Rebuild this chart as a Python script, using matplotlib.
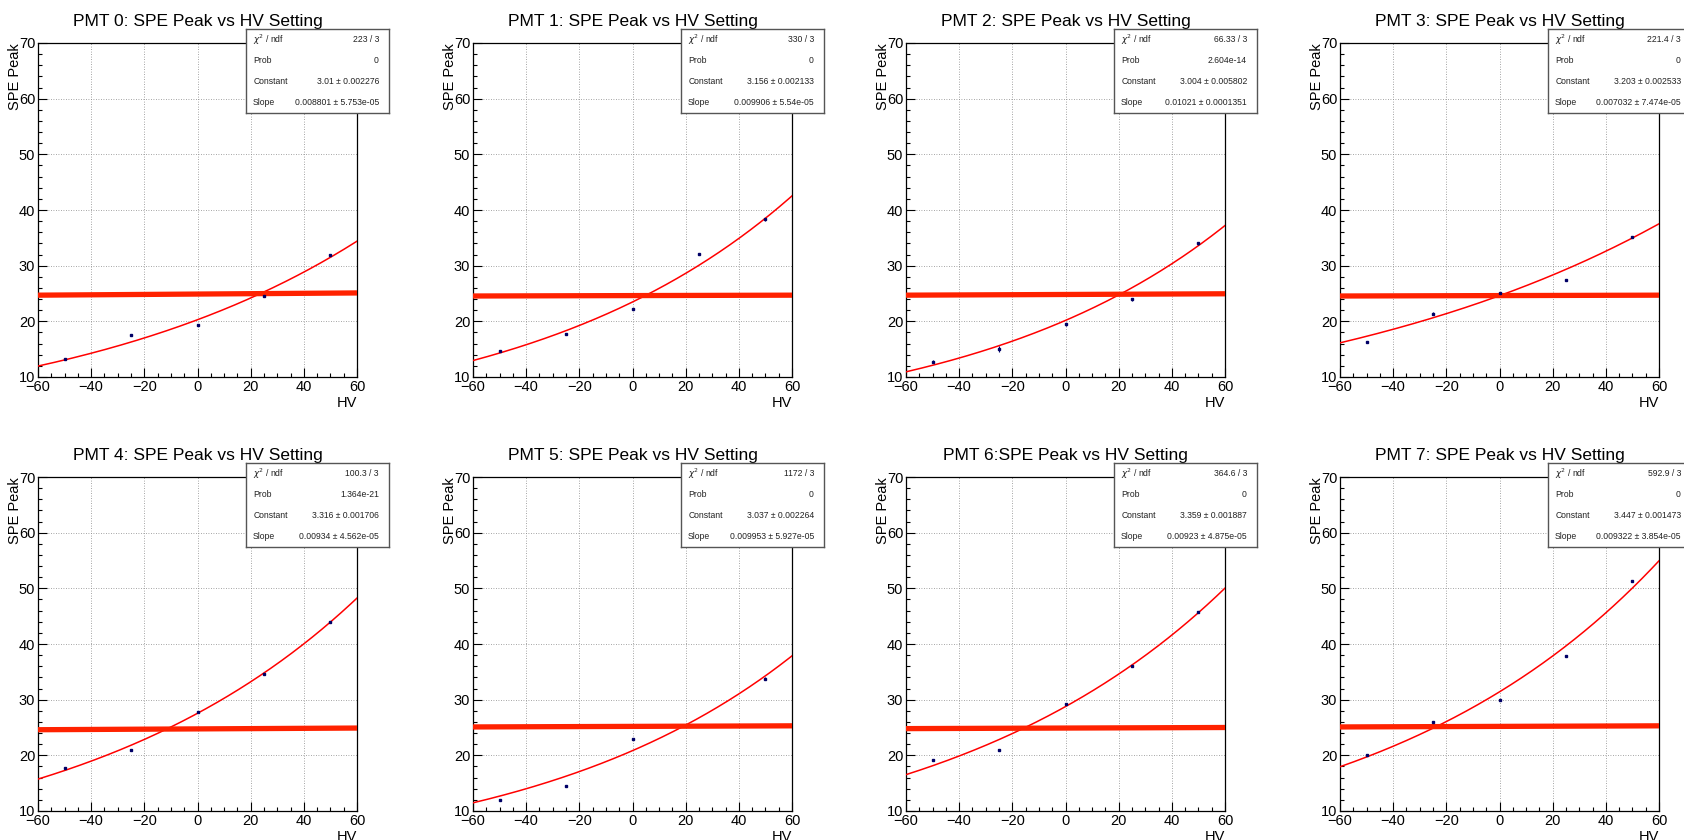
import numpy as np
import matplotlib
matplotlib.use("Agg")
import matplotlib.pyplot as plt
from matplotlib.ticker import MultipleLocator

plt.rcParams['font.family'] = ['Liberation Sans', 'DejaVu Sans']

# ---- data ----
titles = ["PMT 0: SPE Peak vs HV Setting", "PMT 1: SPE Peak vs HV Setting",
          "PMT 2: SPE Peak vs HV Setting", "PMT 3: SPE Peak vs HV Setting",
          "PMT 4: SPE Peak vs HV Setting", "PMT 5: SPE Peak vs HV Setting",
          "PMT 6:SPE Peak vs HV Setting", "PMT 7: SPE Peak vs HV Setting"]

hv_x = [[-50, -25, 0, 25, 50]] * 5 + [[-50, -25, 0, 50]] + [[-50, -25, 0, 25, 50]] * 2
spe_y = [
    [13.2, 17.5, 19.4, 24.6, 31.9],
    [14.6, 17.7, 22.3, 32.1, 38.3],
    [12.75, 15.0, 19.5, 23.95, 34.0],
    [16.3, 21.4, 25.1, 27.4, 35.2],
    [17.7, 21.0, 27.7, 34.7, 44.0],
    [12.0, 14.5, 23.0, 33.8],
    [19.15, 21.0, 29.25, 36.0, 45.7],
    [20.1, 26.0, 30.0, 37.8, 51.3],
]
spe_err = [
    [0.15, 0.15, 0.15, 0.15, 0.2],
    [0.15, 0.15, 0.15, 0.15, 0.2],
    [0.25, 0.5, 0.25, 0.25, 0.3],
    [0.15, 0.2, 0.15, 0.2, 0.2],
    [0.15, 0.15, 0.15, 0.15, 0.2],
    [0.15, 0.15, 0.15, 0.2],
    [0.15, 0.15, 0.15, 0.15, 0.2],
    [0.15, 0.15, 0.15, 0.2, 0.2],
]

# expo fit parameters (Constant, Slope) from the stat boxes
fit_const = [3.01, 3.156, 3.004, 3.203, 3.316, 3.037, 3.359, 3.447]
fit_slope = [0.008801, 0.009906, 0.01021, 0.007032, 0.00934, 0.009953, 0.00923, 0.009322]

stat_chi2 = ["223 / 3", "330 / 3", "66.33 / 3", "221.4 / 3", "100.3 / 3", "1172 / 3", "364.6 / 3", "592.9 / 3"]
stat_prob = ["0", "0", "2.604e-14", "0", "1.364e-21", "0", "0", "0"]
stat_const = ["3.01 ± 0.002276", "3.156 ± 0.002133", "3.004 ± 0.005802", "3.203 ± 0.002533",
              "3.316 ± 0.001706", "3.037 ± 0.002264", "3.359 ± 0.001887", "3.447 ± 0.001473"]
stat_slope = ["0.008801 ± 5.753e-05", "0.009906 ± 5.54e-05", "0.01021 ± 0.0001351",
              "0.007032 ± 7.474e-05", "0.00934 ± 4.562e-05", "0.009953 ± 5.927e-05",
              "0.00923 ± 4.875e-05", "0.009322 ± 3.854e-05"]

# the thick 25 reference line (start / end heights)
ref_y0 = [24.7, 24.55, 24.7, 24.55, 24.6, 25.1, 24.8, 25.1]
ref_y1 = [25.1, 24.7, 24.95, 24.7, 24.9, 25.3, 25.0, 25.3]

# ---- layout (pixels) ----
W, H = 1684, 840
fig = plt.figure(figsize=(W / 100, H / 100), dpi=100)
fig.patch.set_facecolor('white')

ax_w, ax_h = 319, 334
col_left = [38, 473, 906, 1340]
row_top = [43, 477]

for i in range(8):
    r, c = divmod(i, 4)
    L, T = col_left[c], row_top[r]
    ax = fig.add_axes([L / W, 1 - (T + ax_h) / H, ax_w / W, ax_h / H])

    ax.set_xlim(-60, 60)
    ax.set_ylim(10, 70)
    ax.xaxis.set_major_locator(MultipleLocator(20))
    ax.xaxis.set_minor_locator(MultipleLocator(5))
    ax.yaxis.set_major_locator(MultipleLocator(10))
    ax.yaxis.set_minor_locator(MultipleLocator(2))
    ax.tick_params(which='both', direction='in', top=False, right=False,
                   labelsize=10.5, pad=2, width=0.8)
    ax.tick_params(which='major', length=6.5)
    ax.tick_params(which='minor', length=3.2)
    ax.grid(True, which='major', linestyle=(0, (1, 2)), color='#888888', linewidth=0.6)
    for s in ax.spines.values():
        s.set_linewidth(0.9)

    xs = np.linspace(-60, 60, 300)
    ax.plot(xs, np.exp(fit_const[i] + fit_slope[i] * xs), color='#ff0000', lw=1.1, zorder=3)
    ax.plot([-60, 60], [ref_y0[i], ref_y1[i]], color='#ff2200', lw=3.8,
            solid_capstyle='butt', zorder=4, clip_on=False)
    ax.errorbar(hv_x[i], spe_y[i], yerr=spe_err[i], fmt='s', ms=1.5, color='#000066',
                ecolor='#000066', elinewidth=0.8, capsize=0, zorder=5)

    ax.set_title(titles[i], fontsize=12.5, pad=12)
    ax.set_ylabel('SPE Peak', fontsize=10.5, loc='top')
    ax.yaxis.set_label_coords(-0.05, 1.0)
    ax.set_xlabel('HV', fontsize=10.5, loc='right')
    ax.xaxis.set_label_coords(1.0, -0.058)

    # stat box
    bx, by = L + 208, T - 14
    sb = fig.add_axes([bx / W, 1 - (by + 84) / H, 143 / W, 84 / H])
    sb.set_xticks([])
    sb.set_yticks([])
    sb.set_xlim(0, 1)
    sb.set_ylim(0, 1)
    for s in sb.spines.values():
        s.set_edgecolor('#555555')
        s.set_linewidth(1.0)
    labels = [r'$\chi^2$ / ndf', 'Prob', 'Constant', 'Slope']
    values = [stat_chi2[i], stat_prob[i], stat_const[i], stat_slope[i]]
    for k, (lab, val) in enumerate(zip(labels, values)):
        yy = 1 - (0.13 + 0.25 * k)
        sb.text(0.05, yy, lab, fontsize=6.2, ha='left', va='center', color='#222222')
        sb.text(0.93, yy, val, fontsize=6.2, ha='right', va='center', color='#222222')

fig.savefig('out.png', dpi=100)
